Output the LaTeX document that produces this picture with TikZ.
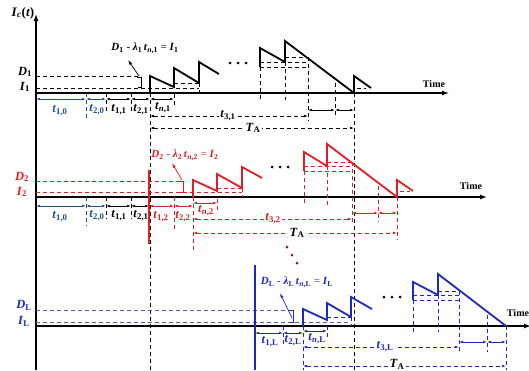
\documentclass[tikz,border=0pt]{standalone}
\usepackage{fontspec}
\setmainfont{Liberation Serif}
\usetikzlibrary{arrows.meta}
\definecolor{myred}{RGB}{225,30,35}
\definecolor{myblue}{RGB}{30,40,190}
\definecolor{lblue}{RGB}{80,90,200}
\definecolor{tblue}{RGB}{30,80,140}
\definecolor{dred}{RGB}{140,20,20}
\newcommand\tl[2]{\textbf{\textit{#1}}\textsubscript{\textbf{#2}}}
\begin{document}
\begin{tikzpicture}[x=1pt,y=-1pt,
  axis/.style={line width=1.3pt,-{Latex[length=7pt,width=5pt]}},
  saw/.style={line width=1.8pt,line join=miter},
  dsh/.style={dash pattern=on 4pt off 3pt,line width=0.7pt},
  dim/.style={line width=0.7pt,{Latex[length=4pt,width=2.6pt]}-{Latex[length=4pt,width=2.6pt]}},
  ddim/.style={dim,dash pattern=on 4pt off 3pt},
  lab/.style={font=\fontsize{12.5}{12.5}\selectfont,inner sep=0.5pt},
  flab/.style={font=\fontsize{11}{11}\selectfont,inner sep=0.5pt},
  onl/.style={lab,fill=white,inner sep=1.5pt},
  tlab/.style={font=\fontsize{10}{10}\selectfont\bfseries,inner sep=0pt},
  dot/.style={fill,circle,inner sep=0pt,minimum size=3pt}]
\useasboundingbox (0,0) rectangle (529,370);
% ---------------- axes
\draw[axis] (36,370) -- (36,14);
\node[lab,font=\fontsize{13}{13}\selectfont] (ic) at (23,13) {\textbf{\textit{I}}\textsubscript{\textbf{\textit{c}}}\textbf{(\textit{t})}};
\draw[axis] (36,93) -- (449,93);
\node[tlab] (time1) at (434,84) {Time};
\draw[axis] (36,197) -- (487,197);
\node[tlab] (time2) at (471,186) {Time};
\draw[axis] (36,326) -- (531,326);
\node[tlab] (time3) at (518,313) {Time};
% long black dashed verticals
\draw[dsh] (150,93) -- (150,370);
\draw[dsh] (354.5,93) -- (354.5,370);

% ================= TOP (black)
\node[lab] (d1) at (25,72) {\tl{D}{1}};
\node[lab] (i1) at (25,87) {\tl{I}{1}};
\draw[dsh] (36,76) -- (141,76);
\draw[dsh] (36,88) -- (199,88);
\draw[line width=0.7pt] (137,77) -| (141,87) -- (138,87);
\node[flab] (f1) at (145,48) {\tl{D}{1} - \tl{λ}{1}\,\textbf{\textit{t}}\textsubscript{\textbf{\textit{n},1}} = \tl{I}{1}};
\draw[line width=0.7pt,-{Latex[length=5pt,width=3pt]}] (139,76) -- (128,60);
\draw[saw] (150,93) -- (150,76) -- (174,87) -- (174,68) -- (199,83) -- (199,62) -- (219,74);
\draw[dsh] (174,83) -- (199,83);
\draw[dsh] (199,83) -- (199,93);
\draw[dsh] (174,94) -- (174,106);
\node[dot] (a1) at (230,63) {};
\node[dot] (a2) at (238,63) {};
\node[dot] (a3) at (246,63) {};
\draw[saw] (260,67) -- (260,48) -- (285,62) -- (285,41) -- (354,93) -- (354,76) -- (371,88);
\draw[dsh] (260,67) -- (260,100);
\draw[dsh] (285,62) -- (285,100);
\draw[dsh] (260,62) -- (308,62);
\draw[dsh] (260,67) -- (308,67);
\draw[dsh] (285,57) -- (308,57);
\draw[dsh] (308,57) -- (308,121);
\draw[dsh] (335,83) -- (335,118);
\draw[dsh] (357,88) -- (366,88);
\draw[dim] (308,110) -- (335,110);
\draw[dim] (335,110) -- (354,110);
\draw[ddim] (150,116) -- (308,116);
\node[onl] (t31) at (228,116) {\tl{t}{3,1}};
\draw[ddim] (150,128) -- (354,128);
\node[onl] (ta1) at (253,128) {\tl{T}{A}};
% left dims
\draw[dim,tblue] (36,99) -- (86,99);
\draw[dim,tblue] (86,99) -- (106,99);
\draw[dim] (106,99) -- (131,99);
\draw[dim] (131,99) -- (150,99);
\draw[dim] (150,99) -- (174,99);
\draw[dsh,tblue] (86,93) -- (86,121);
\draw[dsh] (106,93) -- (106,114);
\draw[dsh] (131,93) -- (131,114);
\node[lab,tblue] (t10a) at (60,111) {\tl{t}{1,0}};
\node[lab,tblue] (t20a) at (97,110) {\tl{t}{2,0}};
\node[lab] (t11a) at (119,110) {\tl{t}{1,1}};
\node[lab] (t21a) at (141,110) {\tl{t}{2,1}};
\node[lab] (tn1) at (163,108) {\textbf{\textit{t}}\textsubscript{\textbf{\textit{n},1}}};

% ================= MIDDLE (red)
\node[lab,myred] (d2) at (22,177) {\tl{D}{2}};
\node[lab,myred] (i2) at (22,192) {\tl{I}{2}};
\draw[dsh,myred] (36,181) -- (183,181);
\draw[dsh,myred] (36,192) -- (242,192);
\draw[line width=0.7pt,myred] (179,181) -| (183,192) -- (180,192);
\node[flab,myred] (f2) at (185,155) {\tl{D}{2} - \tl{λ}{2}\,\textbf{\textit{t}}\textsubscript{\textbf{\textit{n},2}} = \tl{I}{2}};
\draw[line width=0.7pt,myred,-{Latex[length=5pt,width=3pt]}] (182,180) -- (172,163);
\draw[line width=1.3pt,myred] (149,170) -- (149,244);
\draw[dim,tblue] (36,206) -- (86,206);
\draw[dim,tblue] (86,206) -- (106,206);
\draw[dim] (106,206) -- (131,206);
\draw[dim] (131,206) -- (149,206);
\draw[dim,myred] (149,206) -- (174,206);
\draw[dim,myred] (174,206) -- (193,206);
\draw[dsh,tblue] (86,197) -- (86,226);
\draw[dsh] (106,197) -- (106,219);
\draw[dsh] (131,197) -- (131,219);
\draw[dsh,myred] (174,197) -- (174,230);
\draw[dsh,myred] (193,197) -- (193,250);
\node[lab,tblue] (t10b) at (60,217) {\tl{t}{1,0}};
\node[lab,tblue] (t20b) at (97,216) {\tl{t}{2,0}};
\node[lab] (t11b) at (119,216) {\tl{t}{1,1}};
\node[lab] (t21b) at (141,216) {\tl{t}{2,1}};
\node[lab,myred] (t12) at (161,217) {\tl{t}{1,2}};
\node[lab,myred] (t22) at (183,217) {\tl{t}{2,2}};
\draw[saw,myred] (193,197) -- (193,180) -- (217,191) -- (217,174) -- (242,188) -- (242,167) -- (262,178);
\draw[dsh,myred] (217,188) -- (242,188);
\draw[dsh,myred] (242,188) -- (242,197);
\draw[dsh,myred] (217,199) -- (217,212);
\draw[dim,myred] (193,203) -- (217,203);
\node[lab,myred] (tn2) at (206,211) {\textbf{\textit{t}}\textsubscript{\textbf{\textit{n},2}}};
\node[dot] (b1) at (272,167) {};
\node[dot] (b2) at (280,167) {};
\node[dot] (b3) at (288,167) {};
\draw[saw,myred] (304,171) -- (304,152) -- (327,166) -- (327,144) -- (397,197) -- (397,180) -- (413,191);
\draw[dsh,myred] (304,171) -- (304,205);
\draw[dsh,myred] (327,166) -- (327,205);
\draw[dsh,myred] (304,166) -- (352,166);
\draw[dsh,myred] (304,171) -- (352,171);
\draw[dsh,myred] (327,162) -- (352,162);
\draw[dsh,myred] (352,162) -- (352,225);
\draw[dsh,myred] (378,186) -- (378,222);
\draw[dsh,myred] (397,197) -- (397,240);
\draw[dsh,myred] (400,191) -- (410,191);
\draw[dim,myred] (352,213) -- (378,213);
\draw[dim,myred] (378,213) -- (397,213);
\draw[ddim,myred] (193,219) -- (352,219);
\node[onl,text=myred] (t32) at (273,219) {\tl{t}{3,2}};
\draw[ddim,myred] (193,233) -- (397,233);
\node[onl] (ta2) at (297,233) {\tl{T}{A}};
\node[dot,dred] (c1) at (287,247) {};
\node[dot,dred] (c2) at (292,255) {};
\node[dot,dred] (c3) at (297,263) {};

% ================= BOTTOM (blue)
\node[lab,myblue] (dl) at (24,305) {\tl{D}{L}};
\node[lab,myblue] (il) at (24,321) {\tl{I}{L}};
\draw[dsh,lblue] (36,310) -- (293,310);
\draw[dsh,lblue] (36,322) -- (351,322);
\draw[line width=0.7pt,myblue] (289,310) -| (293,322) -- (290,322);
\node[flab,myblue] (fl) at (297,282) {\tl{D}{L} - \tl{λ}{L}\,\textbf{\textit{t}}\textsubscript{\textbf{\textit{n},L}} = \tl{I}{L}};
\draw[line width=0.7pt,myblue,-{Latex[length=5pt,width=3pt]}] (292,318) -- (280,293);
\draw[line width=1.3pt,myblue] (255,265) -- (255,370);
\draw[dim,myblue] (255,333) -- (283,333);
\draw[dim,myblue] (283,333) -- (303,333);
\draw[dim,myblue] (303,331) -- (327,331);
\draw[dsh,myblue] (283,326) -- (283,346);
\draw[dsh,myblue] (303,326) -- (303,370);
\draw[dsh,myblue] (327,326) -- (327,340);
\node[lab,myblue] (t1l) at (270,342) {\tl{t}{1,L}};
\node[lab,myblue] (t2l) at (293,341) {\tl{t}{2,L}};
\node[lab,myblue] (tnl) at (317,339) {\textbf{\textit{t}}\textsubscript{\textbf{\textit{n},L}}};
\draw[saw,myblue] (303,326) -- (303,309) -- (327,320) -- (327,303) -- (351,317) -- (351,297) -- (372,309);
\draw[dsh,myblue] (327,317) -- (351,317);
\draw[dsh,myblue] (351,317) -- (351,326);
\node[dot] (e1) at (384,297) {};
\node[dot] (e2) at (392,297) {};
\node[dot] (e3) at (400,297) {};
\draw[saw,myblue] (413,300) -- (413,282) -- (438,295) -- (438,274) -- (506,326);
\draw[dsh,myblue] (413,300) -- (413,332);
\draw[dsh,myblue] (438,295) -- (438,332);
\draw[dsh,myblue] (413,295) -- (459,295);
\draw[dsh,myblue] (413,300) -- (459,300);
\draw[dsh,myblue] (438,291) -- (459,291);
\draw[dsh,myblue] (459,291) -- (459,351);
\draw[dsh,myblue] (487,315) -- (487,352);
\draw[dsh,myblue] (506,326) -- (506,370);
\draw[dim,myblue] (459,342) -- (487,342);
\draw[dim,myblue] (487,342) -- (506,342);
\draw[ddim,myblue] (303,347) -- (459,347);
\node[onl,text=myblue] (t3l) at (385,347) {\tl{t}{3,L}};
\draw[ddim,myblue] (303,366) -- (506,366);
\node[onl] (tal) at (397,364) {\tl{T}{A}};
\end{tikzpicture}
\end{document}
